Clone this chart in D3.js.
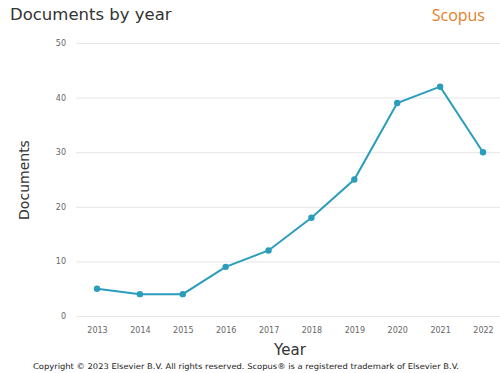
<!DOCTYPE html>
<html><head><meta charset="utf-8">
<script src="https://cdn.jsdelivr.net/npm/d3@7"></script>
<style>body{margin:0;background:#fff;}svg{display:block;}</style>
</head><body>
<svg id="c" width="500" height="373"></svg>
<script>
const years = ["2013","2014","2015","2016","2017","2018","2019","2020","2021","2022"];
const documents = [5,4,4,9,12,18,25,39,42,30];
const yTicks = [0,10,20,30,40,50];

const svg = d3.select("#c");
const font = "'DejaVu Sans', sans-serif";
const x = d3.scalePoint().domain(years).range([97,483]);
const y = d3.scaleLinear().domain([0,50]).range([316,43]);

// grid
const yAxis = svg.append("g").attr("transform","translate(76,0)")
  .call(d3.axisLeft(y).tickValues(yTicks).tickSize(-424).tickPadding(10));
yAxis.select(".domain").remove();
yAxis.selectAll(".tick line").attr("stroke","#e6e6e6");
yAxis.selectAll(".tick text").attr("fill","#666").style("font-family",font).style("font-size","8px");

const xAxis = svg.append("g").attr("transform","translate(0,316)")
  .call(d3.axisBottom(x).tickSize(0).tickPadding(11));
xAxis.select(".domain").remove();
xAxis.selectAll(".tick text").attr("fill","#666").style("font-family",font).style("font-size","8px");

const color = "#2a9dbd";
svg.append("path").datum(documents)
  .attr("fill","none").attr("stroke",color).attr("stroke-width",2)
  .attr("d", d3.line().x((d,i)=>x(years[i])).y(d=>y(d)));
svg.selectAll("circle.pt").data(documents).enter().append("circle")
  .attr("class","pt").attr("cx",(d,i)=>x(years[i])).attr("cy",d=>y(d)).attr("r",3.2).attr("fill",color);

svg.append("text").attr("x",10).attr("y",20).text("Documents by year")
  .style("font-family",font).style("font-size","16.5px").attr("fill","#333");
svg.append("text").attr("x",485).attr("y",21).attr("text-anchor","end").text("Scopus")
  .style("font-family","'Open Sans', sans-serif").style("font-size","16px").attr("fill","#e5802a");
svg.append("text").attr("x",290).attr("y",355).attr("text-anchor","middle").text("Year")
  .style("font-family",font).style("font-size","15px").attr("fill","#333");
svg.append("text").attr("transform","translate(29,180) rotate(-90)").attr("text-anchor","middle").text("Documents")
  .style("font-family",font).style("font-size","14px").attr("fill","#333");
svg.append("text").attr("x",33).attr("y",369)
  .attr("textLength",426).attr("lengthAdjust","spacingAndGlyphs")
  .text("Copyright © 2023 Elsevier B.V. All rights reserved. Scopus® is a registered trademark of Elsevier B.V.")
  .style("font-family",font).style("font-size","7.8px").attr("fill","#222");
</script>
</body></html>
